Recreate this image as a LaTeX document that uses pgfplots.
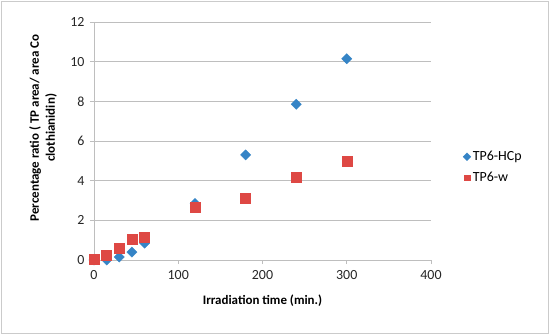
\documentclass[border=0pt]{standalone}
\usepackage{pgfplots}
\pgfplotsset{compat=1.18}
\usepackage{fontspec}
\setmainfont{Carlito}
\definecolor{hcp}{HTML}{3584C6}
\definecolor{tpw}{HTML}{DE4844}
\definecolor{gridc}{HTML}{BEBEBE}
\begin{document}
\begin{tikzpicture}
\useasboundingbox (-94bp,-75bp) rectangle (456bp,260bp);
\draw[color=gridc!80, line width=0.8bp] (-92.5bp,-73.5bp) rectangle (454.5bp,258.5bp);
\begin{axis}[
  at={(0,0)}, anchor=south west,
  scale only axis, width=337bp, height=238bp,
  xmin=0, xmax=400, ymin=0, ymax=12,
  xtick={0,100,200,300,400}, ytick={0,2,4,6,8,10,12},
  axis lines*=left,
  axis line style={gridc, line width=0.8bp},
  ymajorgrids, grid style={gridc, line width=0.8bp},
  tick align=outside, major tick length=4bp,
  tick style={gridc, line width=0.8bp},
  xtick pos=bottom, ytick pos=left,
  /pgf/number format/assume math mode=true,
  ticklabel style={font=\fontsize{14}{16}\selectfont, color=black!85},
  xticklabel style={yshift=-3bp},
  yticklabel style={xshift=-2bp},
  xlabel={Irradiation time (min.)},
  ylabel={Percentage ratio ( TP area/ area Co\\clothianidin)},
  xlabel style={font=\fontsize{13}{15}\selectfont\bfseries, at={(0.5,-0.17)}, anchor=center},
  ylabel style={font=\fontsize{13}{16}\selectfont\bfseries, align=center, at={(-0.151,0.555)}, anchor=center},
  clip=false,
  legend style={draw=none, at={(1.095,0.39)}, anchor=west, font=\fontsize{14}{16}\selectfont, row sep=6bp, legend cell align=left, inner xsep=0pt},
  legend image code/.code={\draw[#1, mark size=2.7bp] (0.15cm,0cm) plot coordinates {(0.15cm,0cm)};},
]
\addplot[only marks, mark=square*, mark size=3.6bp, mark options={rotate=45, fill=hcp, draw=hcp}] coordinates {
(0,0.0) (15,0.0) (30,0.15) (45,0.4) (60,0.85) (120,2.85) (180,5.3) (240,7.85) (300,10.15)};
\addlegendentry{TP6-HCp}
\addplot[only marks, mark=square*, mark size=5bp, mark options={fill=tpw, draw=tpw}] coordinates {
(0,0.05) (15,0.25) (30,0.6) (45,1.05) (60,1.15) (120,2.65) (180,3.1) (240,4.15) (300,5.0)};
\addlegendentry{TP6-w}
\end{axis}
\end{tikzpicture}
\end{document}
